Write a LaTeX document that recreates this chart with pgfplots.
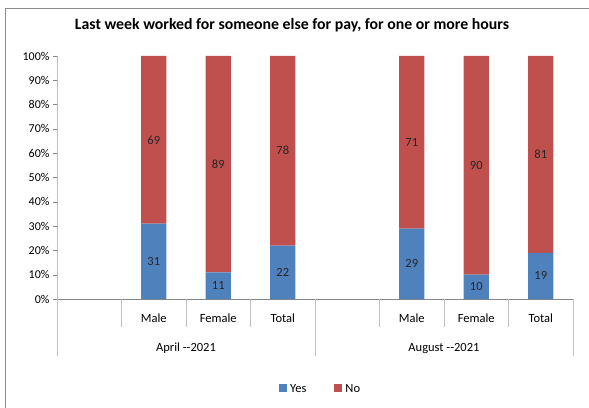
\documentclass[border=0pt]{standalone}
\usepackage{fontspec}
\setmainfont{Carlito}
\usepackage{pgfplots}
\pgfplotsset{compat=1.18}
\usepackage{pgfplotstable}
\definecolor{cyes}{HTML}{4F81BD}
\definecolor{cno}{HTML}{C0504D}
\definecolor{axgray}{HTML}{868686}
\definecolor{sepgray}{HTML}{BFBFBF}
\definecolor{framegray}{HTML}{8C8C8C}

\pgfplotstableread{
x yes no
1 31 69
2 11 89
3 22 78
5 29 71
6 10 90
7 19 81
}\datatable

\begin{document}
\begin{tikzpicture}[x=1pt,y=1pt]
\useasboundingbox (0,0) rectangle (589,407);
\draw[framegray, line width=1.5pt] (5.5,-10) -- (5.5,398.5) -- (600,398.5);
\node[font=\bfseries\fontsize{15.8}{18}\selectfont] at (292,381.5) {Last week worked for someone else for pay, for one or more hours};
\begin{axis}[
  at={(57pt,108pt)}, anchor=south west,
  scale only axis, width=516pt, height=243pt,
  ybar stacked, bar width=0.39,
  xmin=-0.5, xmax=7.5, ymin=0, ymax=100,
  axis x line*=bottom, axis y line*=left,
  x axis line style={axgray, line width=0.8pt},
  y axis line style={sepgray, line width=0.8pt},
  clip=false,
  xtick={0,...,7},
  xticklabels={,Male,Female,Total,,Male,Female,Total},
  xtick style={draw=none},
  xticklabel style={anchor=base, yshift=-19pt, font=\fontsize{12.5}{14}\selectfont},
  ytick={0,10,...,100},
  yticklabels={0\%,10\%,20\%,30\%,40\%,50\%,60\%,70\%,80\%,90\%,100\%},
  yticklabel style={font=\fontsize{12}{13}\selectfont},
  ytick style={axgray},
  tick align=outside, major tick length=4pt,
  legend style={at={(0.511,-0.37)}, anchor=center, draw=none, legend columns=2,
    font=\fontsize{12.5}{14}\selectfont,
    /tikz/every odd column/.append style={column sep=1pt},
    /tikz/every even column/.append style={column sep=26pt}},
  legend image code/.code={\fill[#1] (0pt,-3.5pt) rectangle (8pt,4.5pt);},
  nodes near coords style={font=\fontsize{12.5}{14}\selectfont, anchor=center, text=black!85},
]
\addplot[fill=cyes, draw=none, nodes near coords, point meta=explicit symbolic]
  table[x=x, y=yes, meta=yes] {\datatable};
\addplot[fill=cno, draw=none, nodes near coords, point meta=explicit symbolic]
  table[x=x, y=no, meta=no] {\datatable};
\legend{Yes,No}
\pgfplotsinvokeforeach{0.5,1.5,2.5,4.5,5.5,6.5}{
  \draw[sepgray, line width=0.8pt] (axis cs:#1,0) -- ++(0pt,-28pt);
}
\pgfplotsinvokeforeach{-0.5,3.5,7.5}{
  \draw[sepgray, line width=0.8pt] (axis cs:#1,0) -- ++(0pt,-57pt);
}
\node[anchor=base, font=\fontsize{12.5}{14}\selectfont] at (axis cs:1.5,0) [yshift=-52pt] {April -{}-2021};
\node[anchor=base, font=\fontsize{12.5}{14}\selectfont] at (axis cs:5.5,0) [yshift=-52pt] {August -{}-2021};
\end{axis}
\end{tikzpicture}
\end{document}
